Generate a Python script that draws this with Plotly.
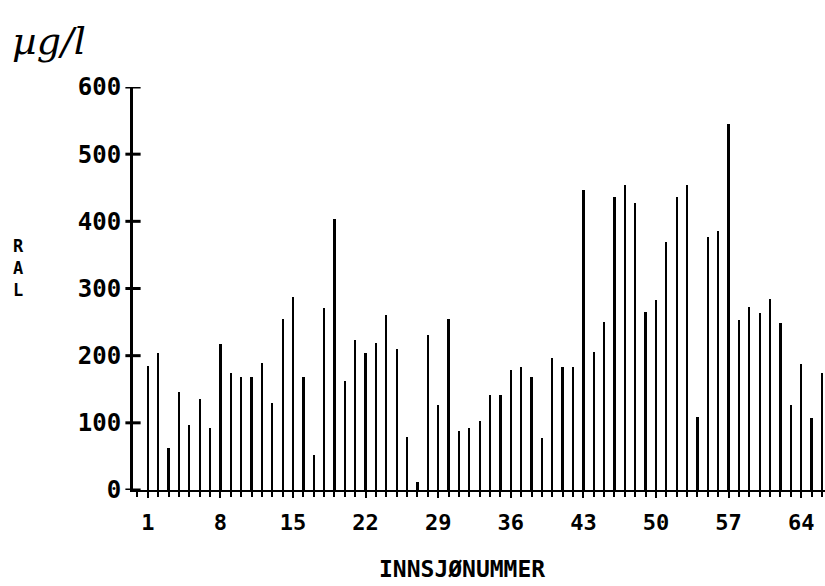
import plotly.graph_objects as go

lake_numbers = list(range(1, 67))
ral_values = [185, 204, 62, 146, 97, 135, 92, 217, 174, 168,
              168, 189, 129, 254, 287, 168, 52, 271, 403, 162,
              223, 204, 219, 260, 210, 79, 12, 231, 127, 254,
              88, 92, 103, 141, 141, 179, 183, 168, 77, 196,
              183, 183, 446, 205, 250, 436, 454, 427, 265, 283,
              369, 436, 454, 109, 377, 385, 545, 253, 272, 263,
              284, 248, 127, 188, 107, 174]
x_ticks = [1, 8, 15, 22, 29, 36, 43, 50, 57, 64]
y_ticks = [0, 100, 200, 300, 400, 500, 600]
y_title = "RAL"

font_fam = "DejaVu Sans Mono"

fig = go.Figure()
fig.add_trace(go.Bar(x=lake_numbers, y=ral_values, width=0.22,
                     marker=dict(color="black", line=dict(width=0)),
                     showlegend=False))

# crossing tick marks on the y axis
shapes = [dict(type="line", xref="paper", yref="y", x0=-0.011, x1=0.011,
               y0=v, y1=v, line=dict(color="black", width=3)) for v in y_ticks]

annotations = [
    dict(text="µg/l", xref="paper", yref="paper", x=-0.178, y=1.115,
         xanchor="left", yanchor="middle", showarrow=False,
         font=dict(family="DejaVu Serif", size=38, color="black", style="italic")),
    dict(text="INNSJØNUMMER", xref="paper", yref="paper", x=0.475, y=-0.196,
         xanchor="center", yanchor="middle", showarrow=False,
         font=dict(family=font_fam, size=23, color="black", weight="bold")),
    dict(text="<br>".join(y_title), xref="paper", yref="paper", x=-0.166, y=0.551,
         xanchor="center", yanchor="middle", showarrow=False,
         font=dict(family=font_fam, size=17, color="black", weight="bold")),
]

fig.update_layout(
    width=825, height=586,
    margin=dict(l=133, r=0, t=87, b=96),
    paper_bgcolor="white", plot_bgcolor="white",
    bargap=0,
    shapes=shapes,
    annotations=annotations,
    xaxis=dict(range=[-0.43, 66.3], tickmode="array", tickvals=x_ticks,
               ticktext=[str(v) for v in x_ticks],
               showgrid=False, zeroline=False, showline=True, linecolor="black",
               linewidth=2, ticks="outside", ticklen=6, tickwidth=2, tickcolor="black",
               minor=dict(tickmode="linear", tick0=1, dtick=1, ticks="outside", ticklen=5,
                          tickwidth=1.5, tickcolor="black", showgrid=False),
               ticklabelstandoff=6,
               tickfont=dict(family=font_fam, size=22, color="black", weight="bold")),
    yaxis=dict(range=[0, 600], tickmode="array", tickvals=y_ticks,
               ticktext=[str(v) for v in y_ticks],
               showgrid=False, zeroline=False, showline=True, linecolor="black",
               linewidth=3, ticks="", ticklabelstandoff=4,
               tickfont=dict(family=font_fam, size=24, color="black", weight="bold")),
)

fig.write_html("out.html")
